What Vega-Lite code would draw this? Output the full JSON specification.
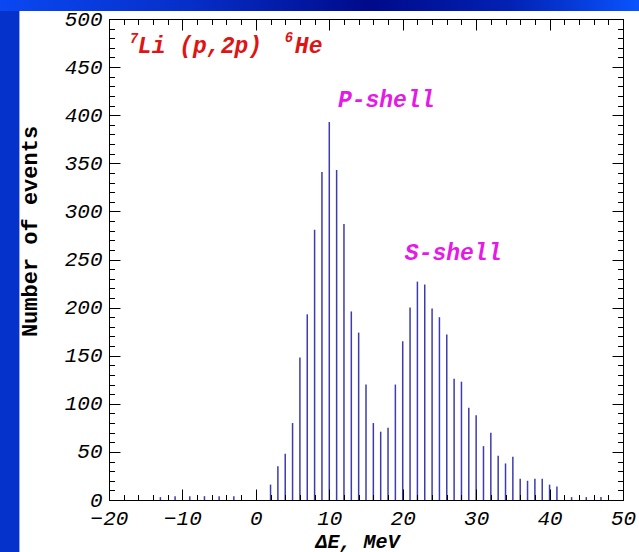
{
  "$schema": "https://vega.github.io/schema/vega-lite/v6.json",
  "width": 514,
  "height": 481,
  "autosize": {"type": "none"},
  "padding": {"left": 109, "top": 19, "right": 16, "bottom": 52},
  "background": "#0632cc",
  "config": {
    "view": {"stroke": null},
    "axis": {
      "grid": false, "domainColor": "black", "tickColor": "black",
      "domainWidth": 1, "tickWidth": 1, "labelColor": "black", "titleColor": "black",
      "labelFont": "Liberation Mono", "labelFontStyle": "italic", "labelFontSize": 21,
      "labelFontWeight": "normal", "labelFlush": false, "labelOverlap": false
    }
  },
  "datasets": {
    "hist": [
      {"E": -13, "n": 3}, {"E": -11, "n": 4}, {"E": -9, "n": 4}, {"E": -7, "n": 4},
      {"E": -5, "n": 4}, {"E": -3, "n": 4},
      {"E": 2, "n": 16}, {"E": 3, "n": 35}, {"E": 4, "n": 48}, {"E": 5, "n": 80},
      {"E": 6, "n": 148}, {"E": 7, "n": 193}, {"E": 8, "n": 281}, {"E": 9, "n": 341},
      {"E": 10, "n": 393}, {"E": 11, "n": 343}, {"E": 12, "n": 287}, {"E": 13, "n": 196},
      {"E": 14, "n": 174}, {"E": 15, "n": 120}, {"E": 16, "n": 80}, {"E": 17, "n": 71},
      {"E": 18, "n": 75}, {"E": 19, "n": 120}, {"E": 20, "n": 165}, {"E": 21, "n": 200},
      {"E": 22, "n": 227}, {"E": 23, "n": 224}, {"E": 24, "n": 199}, {"E": 25, "n": 190},
      {"E": 26, "n": 172}, {"E": 27, "n": 126}, {"E": 28, "n": 123}, {"E": 29, "n": 96},
      {"E": 30, "n": 88}, {"E": 31, "n": 56}, {"E": 32, "n": 70}, {"E": 33, "n": 46},
      {"E": 34, "n": 38}, {"E": 35, "n": 45}, {"E": 36, "n": 22}, {"E": 37, "n": 20},
      {"E": 38, "n": 22}, {"E": 39, "n": 22}, {"E": 40, "n": 16}, {"E": 41, "n": 14},
      {"E": 43, "n": 3}, {"E": 45, "n": 3}, {"E": 47, "n": 3}
    ]
  },
  "resolve": {"axis": {"x": "independent", "y": "independent"}},
  "layer": [
    {
      "data": {"values": [{}]},
      "mark": {"type": "rect", "strokeWidth": 0, "color": {
        "gradient": "linear", "x1": 0, "y1": 0, "x2": 1, "y2": 0,
        "stops": [
          {"offset": 0, "color": "#0a48f2"},
          {"offset": 0.3, "color": "#062ec8"},
          {"offset": 0.58, "color": "#000a8a"},
          {"offset": 0.8, "color": "#0222b4"},
          {"offset": 1, "color": "#0a54ff"}
        ]}},
      "encoding": {
        "x": {"datum": -35, "type": "quantitative", "axis": null},
        "x2": {"datum": 52.2},
        "y": {"datum": 540, "type": "quantitative", "axis": null},
        "y2": {"datum": 508.3}
      }
    },
    {
      "data": {"values": [{}]},
      "mark": {"type": "rect", "color": "white"},
      "encoding": {
        "x": {"datum": -32.2, "type": "quantitative", "axis": null},
        "x2": {"datum": 55},
        "y": {"datum": 508.3, "type": "quantitative", "axis": null},
        "y2": {"datum": -60}
      }
    },
    {
      "data": {"name": "hist"},
      "mark": {"type": "rule", "color": "#3c3cb0", "strokeWidth": 1.5},
      "encoding": {
        "x": {
          "field": "E", "type": "quantitative",
          "scale": {"domain": [-20, 50], "nice": false, "zero": false},
          "axis": {
            "zindex": 2,
            "orient": "bottom", "values": [-20, -10, 0, 10, 20, 30, 40, 50],
            "tickSize": -11, "labelPadding": 18,
            "title": "ΔE, MeV", "titleFont": "Liberation Mono", "titleFontSize": 20,
            "titleFontWeight": "bold", "titleFontStyle": "italic",
            "titleX": 248, "titleY": 47, "titleAlign": "center", "titleBaseline": "alphabetic"
          }
        },
        "y": {
          "field": "n", "type": "quantitative",
          "scale": {"domain": [0, 500], "nice": false, "zero": true},
          "axis": {
            "zindex": 2,
            "orient": "left", "values": [0, 50, 100, 150, 200, 250, 300, 350, 400, 450, 500],
            "tickSize": -11, "labelPadding": 18,
            "title": "Number of events", "titleFont": "Liberation Mono", "titleFontSize": 22,
            "titleFontWeight": "bold", "titleAngle": 270,
            "titleX": -73, "titleY": 212, "titleAlign": "center", "titleBaseline": "alphabetic"
          }
        },
        "y2": {"datum": 0}
      }
    },
    {
      "data": {"values": [{"E": 0, "n": 0}]},
      "mark": {"type": "point", "opacity": 0},
      "encoding": {
        "x": {"field": "E", "type": "quantitative", "axis": {
          "zindex": 2,
          "orient": "bottom", "values": [-20,-18,-16,-14,-12,-10,-8,-6,-4,-2,0,2,4,6,8,10,12,14,16,18,20,22,24,26,28,30,32,34,36,38,40,42,44,46,48,50],
          "labels": false, "tickSize": -5.5, "title": null}},
        "y": {"field": "n", "type": "quantitative", "axis": {
          "zindex": 2,
          "orient": "left", "values": [0,10,20,30,40,50,60,70,80,90,100,110,120,130,140,150,160,170,180,190,200,210,220,230,240,250,260,270,280,290,300,310,320,330,340,350,360,370,380,390,400,410,420,430,440,450,460,470,480,490,500],
          "labels": false, "tickSize": -5.5, "title": null}}
      }
    },
    {
      "data": {"values": [{"E": 0, "n": 0}]},
      "mark": {"type": "point", "opacity": 0},
      "encoding": {
        "x": {"field": "E", "type": "quantitative", "axis": {
          "zindex": 2,
          "orient": "top", "values": [-20, -10, 0, 10, 20, 30, 40, 50],
          "labels": false, "tickSize": -11, "title": null}},
        "y": {"field": "n", "type": "quantitative", "axis": {
          "zindex": 2,
          "orient": "right", "values": [0, 50, 100, 150, 200, 250, 300, 350, 400, 450, 500],
          "labels": false, "tickSize": -11, "title": null}}
      }
    },
    {
      "data": {"values": [{"E": 0, "n": 0}]},
      "mark": {"type": "point", "opacity": 0},
      "encoding": {
        "x": {"field": "E", "type": "quantitative", "axis": {
          "zindex": 2,
          "orient": "top", "values": [-20,-18,-16,-14,-12,-10,-8,-6,-4,-2,0,2,4,6,8,10,12,14,16,18,20,22,24,26,28,30,32,34,36,38,40,42,44,46,48,50],
          "labels": false, "tickSize": -5.5, "title": null}},
        "y": {"field": "n", "type": "quantitative", "axis": {
          "zindex": 2,
          "orient": "right", "values": [0,10,20,30,40,50,60,70,80,90,100,110,120,130,140,150,160,170,180,190,200,210,220,230,240,250,260,270,280,290,300,310,320,330,340,350,360,370,380,390,400,410,420,430,440,450,460,470,480,490,500],
          "labels": false, "tickSize": -5.5, "title": null}}
      }
    },
    {
      "data": {"values": [{}]},
      "mark": {"type": "text", "text": "Li (p,2p)", "font": "Liberation Mono", "fontSize": 23, "fontWeight": "bold", "fontStyle": "italic", "color": "#e01414", "align": "left", "baseline": "alphabetic"},
      "encoding": {
        "x": {"datum": -16.07, "type": "quantitative", "axis": null},
        "y": {"datum": 464.7, "type": "quantitative", "axis": null}
      }
    },
    {
      "data": {"values": [{}]},
      "mark": {"type": "text", "text": "He", "font": "Liberation Mono", "fontSize": 23, "fontWeight": "bold", "fontStyle": "italic", "color": "#e01414", "align": "left", "baseline": "alphabetic"},
      "encoding": {
        "x": {"datum": 5.31, "type": "quantitative", "axis": null},
        "y": {"datum": 464.7, "type": "quantitative", "axis": null}
      }
    },
    {
      "data": {"values": [{}]},
      "mark": {"type": "text", "text": "7", "font": "Liberation Mono", "fontSize": 14, "fontWeight": "bold", "fontStyle": "italic", "color": "#e01414", "align": "left", "baseline": "alphabetic"},
      "encoding": {
        "x": {"datum": -17.16, "type": "quantitative", "axis": null},
        "y": {"datum": 475, "type": "quantitative", "axis": null}
      }
    },
    {
      "data": {"values": [{}]},
      "mark": {"type": "text", "text": "6", "font": "Liberation Mono", "fontSize": 14, "fontWeight": "bold", "fontStyle": "italic", "color": "#e01414", "align": "left", "baseline": "alphabetic"},
      "encoding": {
        "x": {"datum": 3.95, "type": "quantitative", "axis": null},
        "y": {"datum": 476, "type": "quantitative", "axis": null}
      }
    },
    {
      "data": {"values": [{}]},
      "mark": {"type": "text", "text": "P-shell", "font": "Liberation Mono", "fontSize": 23, "fontWeight": "bold", "fontStyle": "italic", "color": "#e619e6", "align": "left", "baseline": "alphabetic"},
      "encoding": {
        "x": {"datum": 11.17, "type": "quantitative", "axis": null},
        "y": {"datum": 408.5, "type": "quantitative", "axis": null}
      }
    },
    {
      "data": {"values": [{}]},
      "mark": {"type": "text", "text": "S-shell", "font": "Liberation Mono", "fontSize": 23, "fontWeight": "bold", "fontStyle": "italic", "color": "#e619e6", "align": "left", "baseline": "alphabetic"},
      "encoding": {
        "x": {"datum": 20.29, "type": "quantitative", "axis": null},
        "y": {"datum": 249.5, "type": "quantitative", "axis": null}
      }
    }
  ]
}
